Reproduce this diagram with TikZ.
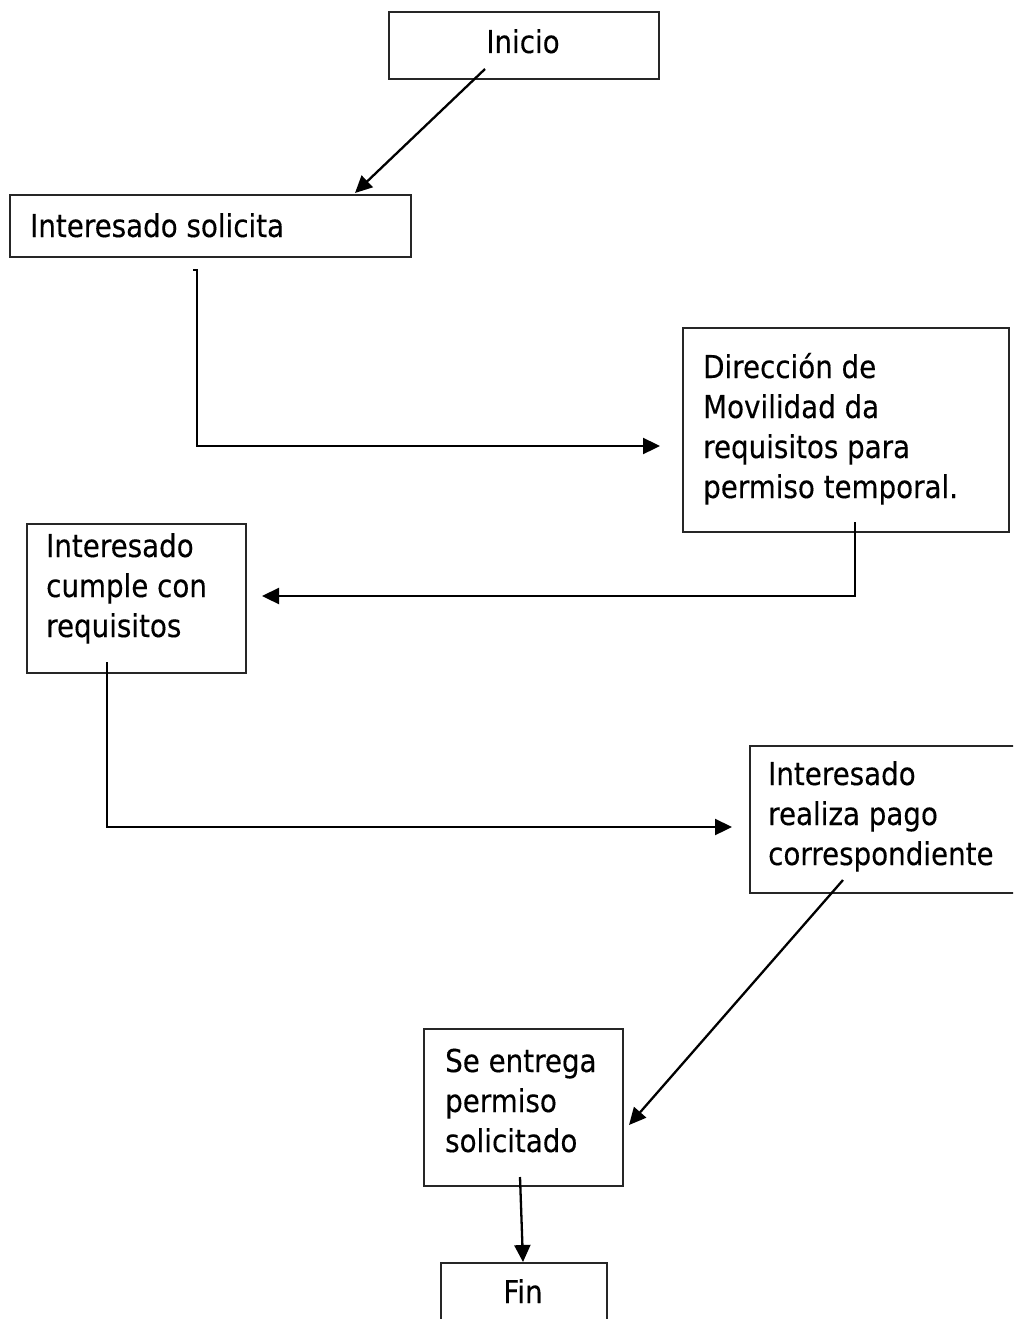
\documentclass[tikz,border=0pt]{standalone}
\usepackage{fontspec}
\setmainfont{DejaVu Sans}[FakeStretch=0.88,FakeBold=0.3]
\usetikzlibrary{arrows.meta,calc}
\newcommand{\mylines}[1]{\parbox[t]{320pt}{\raggedright #1}}
\begin{document}
\begin{tikzpicture}[x=1pt,y=-1pt,
  box/.style={draw=black!85, line width=1.6pt, inner sep=0pt, anchor=north west},
  txt/.style={inner sep=0pt, anchor=base west, font=\fontsize{31.5}{40}\selectfont},
  conn/.style={line width=2.3pt, line join=miter, -{Triangle[length=17pt,width=16pt]}}]
\useasboundingbox[fill=white] (0,0) rectangle (1013,1319);
\begin{scope}
\clip (0,0) rectangle (1013,1319);
% boxes
\node[box, minimum width=270pt, minimum height=67pt] (b1) at (388,11) {};
\node[box, minimum width=401pt, minimum height=62pt] (b2) at (9,194) {};
\node[box, minimum width=326pt, minimum height=204pt] (b3) at (682,327) {};
\node[box, minimum width=219pt, minimum height=149pt] (b4) at (26,523) {};
\node[box, minimum width=290pt, minimum height=147pt] (b5) at (749,745) {};
\node[box, minimum width=199pt, minimum height=157pt] (b6) at (423,1028) {};
\node[box, minimum width=166pt, minimum height=90pt] (b7) at (440,1262) {};
% texts
\node[txt, anchor=base] (t1) at (523,53) {Inicio};
\node[txt] (t2) at (30,237) {Interesado solicita};
\node[txt] (t3) at (703,378) {\mylines{Dirección de\\Movilidad da\\requisitos para\\permiso temporal.}};
\node[txt] (t4) at (46,557) {\mylines{Interesado\\cumple con\\requisitos}};
\node[txt] (t5) at (768,785) {\mylines{Interesado\\realiza pago\\correspondiente}};
\node[txt] (t6) at (445,1072) {\mylines{Se entrega\\permiso\\solicitado}};
\node[txt, anchor=base] (t7) at (523,1303) {Fin};
% connector ends
\coordinate (c1s) at (485,69);
\coordinate (c1e) at (355,193);
\coordinate (c2s) at (193,270);
\coordinate (c2e) at (660,446);
\coordinate (c3s) at (855,522);
\coordinate (c3e) at (262,596);
\coordinate (c4s) at (107,662);
\coordinate (c4e) at (732,827);
\coordinate (c5s) at (843,880);
\coordinate (c5e) at (629,1125);
\coordinate (c6s) at (520,1177);
\coordinate (c6e) at (523,1262);
% connectors
\draw[conn] (c1s) -- (c1e);
\draw[conn] (c2s) -- ++(4,0) |- (c2e);
\draw[conn] (c3s) |- (c3e);
\draw[conn] (c4s) |- (c4e);
\draw[conn] (c5s) -- (c5e);
\draw[conn] (c6s) -- (c6e);
\end{scope}
\end{tikzpicture}
\end{document}
